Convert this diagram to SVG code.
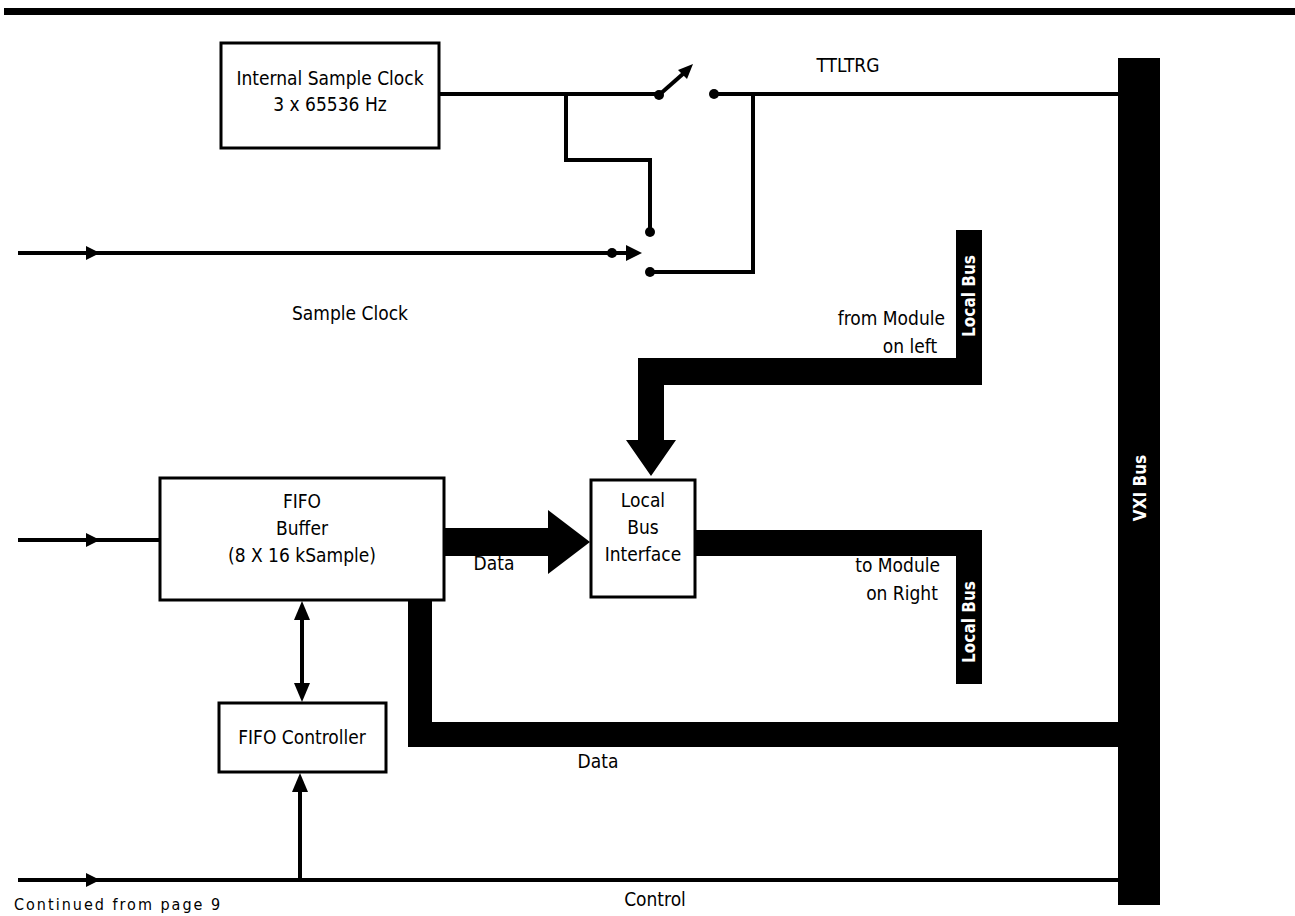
<svg xmlns="http://www.w3.org/2000/svg" width="1295" height="916" viewBox="0 0 1295 916">
<style>
.t{font-family:"DejaVu Sans Condensed","Liberation Sans",sans-serif;font-size:19px;fill:#000}
.w{font-family:"DejaVu Sans Condensed","Liberation Sans",sans-serif;font-size:17px;font-weight:bold;fill:#fff}
.box{fill:#fff;stroke:#000;stroke-width:3}
.ln{fill:none;stroke:#000;stroke-width:4}
.bk{fill:#000}
</style>
<rect x="4" y="8" width="1291" height="7" class="bk"/>
<g id="internal-clock">
<rect x="221" y="43" width="218" height="105" class="box"/>
<text class="t" x="330" y="85" text-anchor="middle">Internal Sample Clock</text>
<text class="t" x="330" y="111" text-anchor="middle">3 x 65536 Hz</text>
</g>
<g id="fifo-buffer">
<rect x="160" y="478" width="284" height="122" class="box"/>
<text class="t" x="302" y="508" text-anchor="middle">FIFO</text>
<text class="t" x="302" y="535" text-anchor="middle">Buffer</text>
<text class="t" x="302" y="562" text-anchor="middle">(8 X 16 kSample)</text>
</g>
<g id="local-bus-interface">
<rect x="591" y="480" width="104" height="117" class="box"/>
<text class="t" x="643" y="507" text-anchor="middle">Local</text>
<text class="t" x="643" y="534" text-anchor="middle">Bus</text>
<text class="t" x="643" y="561" text-anchor="middle">Interface</text>
</g>
<g id="fifo-controller">
<rect x="219" y="703" width="167" height="69" class="box"/>
<text class="t" x="302" y="744" text-anchor="middle">FIFO Controller</text>
</g>
<g id="vxi-bus">
<rect x="1118" y="58" width="42" height="847" class="bk"/>
<text class="w" transform="translate(1146,488) rotate(-90)" text-anchor="middle">VXI Bus</text>
</g>
<g id="local-bus-left">
<rect x="956" y="230" width="26" height="155" class="bk"/>
<text class="w" transform="translate(975,296) rotate(-90)" text-anchor="middle">Local Bus</text>
</g>
<g id="local-bus-right">
<rect x="956" y="530" width="26" height="154" class="bk"/>
<text class="w" transform="translate(975,622) rotate(-90)" text-anchor="middle">Local Bus</text>
</g>
<g id="connectors">
<polyline class="ln" points="439,94 657,94"/>
<polyline class="ln" points="566,94 566,160 650,160 650,230"/>
<circle cx="650" cy="232" r="5" class="bk"/>
<circle cx="659" cy="95" r="5" class="bk"/>
<line class="ln" x1="659" y1="95" x2="684" y2="73"/>
<polygon class="bk" points="693,64 678,70 687,79"/>
<circle cx="714" cy="94" r="5" class="bk"/>
<polyline class="ln" points="714,94 1118,94"/>
<polyline class="ln" points="753,94 753,272 650,272"/>
<circle cx="650" cy="272" r="5" class="bk"/>
<polyline class="ln" points="18,253 628,253"/>
<polygon class="bk" points="100,253 86,246 86,260"/>
<circle cx="612" cy="253" r="5" class="bk"/>
<polygon class="bk" points="642,253 626,245 626,261"/>
<polygon class="bk" points="982,358 638,358 638,440 626,440 651,476 676,440 664,440 664,385 982,385"/>
<rect x="695" y="530" width="287" height="26" class="bk"/>
<polyline class="ln" points="18,540 160,540"/>
<polygon class="bk" points="100,540 86,533 86,547"/>
<polygon class="bk" points="444,528 548,528 548,510 590,542 548,574 548,556 444,556"/>
<polygon class="bk" points="408,600 432,600 432,722 1118,722 1118,747 408,747"/>
<line class="ln" x1="302" y1="618" x2="302" y2="685"/>
<polygon class="bk" points="302,601 294,620 310,620"/>
<polygon class="bk" points="302,702 294,683 310,683"/>
<polyline class="ln" points="18,880 1118,880"/>
<polygon class="bk" points="100,880 86,873 86,887"/>
<line class="ln" x1="300" y1="880" x2="300" y2="790"/>
<polygon class="bk" points="300,773 292,792 308,792"/>
</g>
<text class="t" x="848" y="72" text-anchor="middle">TTLTRG</text>
<text class="t" x="350" y="320" text-anchor="middle">Sample Clock</text>
<text class="t" x="945" y="325" text-anchor="end">from Module</text>
<text class="t" x="910" y="353" text-anchor="middle">on left</text>
<text class="t" x="494" y="570" text-anchor="middle">Data</text>
<text class="t" x="940" y="572" text-anchor="end">to Module</text>
<text class="t" x="902" y="600" text-anchor="middle">on Right</text>
<text class="t" x="598" y="768" text-anchor="middle">Data</text>
<text class="t" x="655" y="906" text-anchor="middle">Control</text>
<text class="t" x="14" y="910" style="font-size:16px;letter-spacing:2px">Continued from page 9</text>
</svg>
